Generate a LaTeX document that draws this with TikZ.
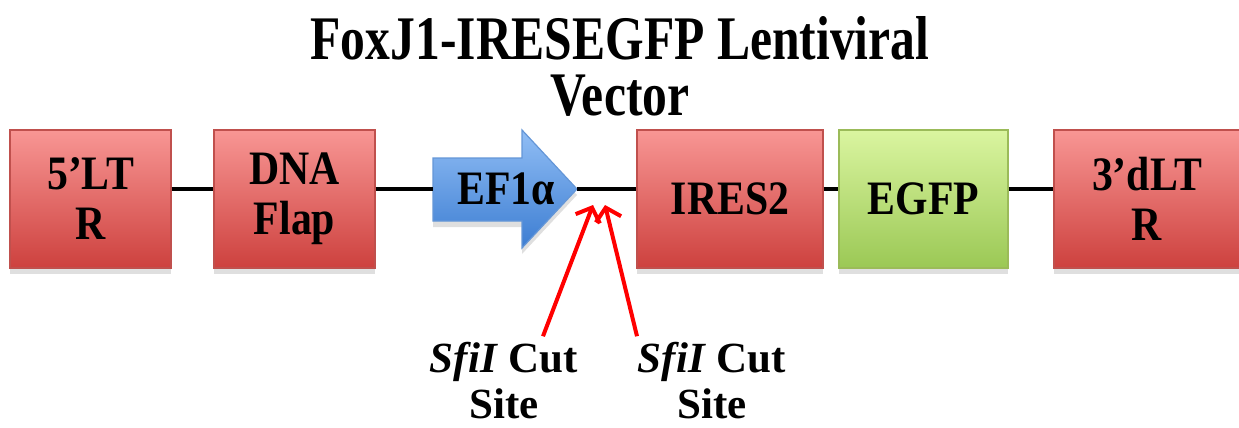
\documentclass[tikz,border=0pt]{standalone}
\usepackage{fontspec}
\setmainfont{Liberation Serif}
\newfontfamily\boxfont[FakeStretch=0.87]{Liberation Serif}
\newfontfamily\titlefont[FakeStretch=0.8]{Liberation Serif}
\usetikzlibrary{shadows,arrows.meta}

\definecolor{redtop}{RGB}{248,150,148}
\definecolor{redbot}{RGB}{205,65,62}
\definecolor{redline}{RGB}{192,80,77}
\definecolor{greentop}{RGB}{218,245,160}
\definecolor{greenbot}{RGB}{155,200,85}
\definecolor{greenline}{RGB}{155,187,89}
\definecolor{bluetop}{RGB}{145,190,245}
\definecolor{bluebot}{RGB}{60,125,210}
\definecolor{blueline}{RGB}{100,150,215}

\tikzset{
  element/.style={draw=redline, line width=0.6pt, top color=redtop, bottom color=redbot,
    minimum width=80.5pt, minimum height=69pt, align=center,
    font=\boxfont\bfseries\fontsize{24}{25}\selectfont,
    drop shadow={shadow xshift=0pt, shadow yshift=-3pt, opacity=0.25}},
  reporter/.style={element, draw=greenline, top color=greentop, bottom color=greenbot},
  promoter/.style={draw=blueline, line width=0.6pt, top color=bluetop, bottom color=bluebot,
    drop shadow={shadow xshift=0pt, shadow yshift=-3pt, opacity=0.25}},
  backbone/.style={line width=1.8pt, black},
  cutarrow/.style={line width=2pt, red, -{Straight Barb[length=6pt,width=13pt]}},
  cutlabel/.style={align=center, inner sep=1pt, font=\bfseries\fontsize{21.5}{23}\selectfont}
}

\begin{document}
\begin{tikzpicture}[x=0.5pt, y=-0.5pt]
  \useasboundingbox (0,0) rectangle (1239,428);

  % title
  \node[align=center, font=\titlefont\bfseries\fontsize{31}{28}\selectfont] (title) at (620,66)
    {FoxJ1-IRESEGFP Lentiviral\\Vector};

  % vector elements
  \node[element] (ltr5) at (90.5,199) {5’LT\\R};
  \node[element] (flap) at (294.5,199) {DNA\\Flap};
  \node[element, minimum width=93pt] (ires) at (730,199) {IRES2};
  \node[reporter, minimum width=84.5pt] (egfp) at (923.5,199) {EGFP};
  \node[element, minimum width=93pt] (ltr3) at (1147,199) {3’dLT\\R};

  % promoter arrow
  \coordinate (tail) at (433,189);
  \coordinate (tip) at (577,189);
  \path[promoter] (433,158) -- (522,158) -- (522,130) -- (tip) -- (522,248)
    -- (522,221) -- (433,221) -- cycle;
  \node[font=\boxfont\bfseries\fontsize{24}{25}\selectfont] (ef1a) at (506,189) {EF1α};

  % backbone
  \draw[backbone] (ltr5.east |- tail) -- (flap.west |- tail);
  \draw[backbone] (flap.east |- tail) -- (tail);
  \draw[backbone] (tip) -- (ires.west |- tip);
  \draw[backbone] (ires.east |- tip) -- (egfp.west |- tip);
  \draw[backbone] (egfp.east |- tip) -- (ltr3.west |- tip);

  % SfiI sites
  \coordinate (site1) at (593,205);
  \coordinate (site2) at (605,205);
  \node[cutlabel] (cut1) at (504,381) {\textit{SfiI} Cut\\Site};
  \node[cutlabel] (cut2) at (712,381) {\textit{SfiI} Cut\\Site};
  \draw[cutarrow] ([xshift=19.5pt,yshift=2pt]cut1.north) -- (site1);
  \draw[cutarrow] ([xshift=-37.5pt,yshift=2pt]cut2.north) -- (site2);
\end{tikzpicture}
\end{document}
